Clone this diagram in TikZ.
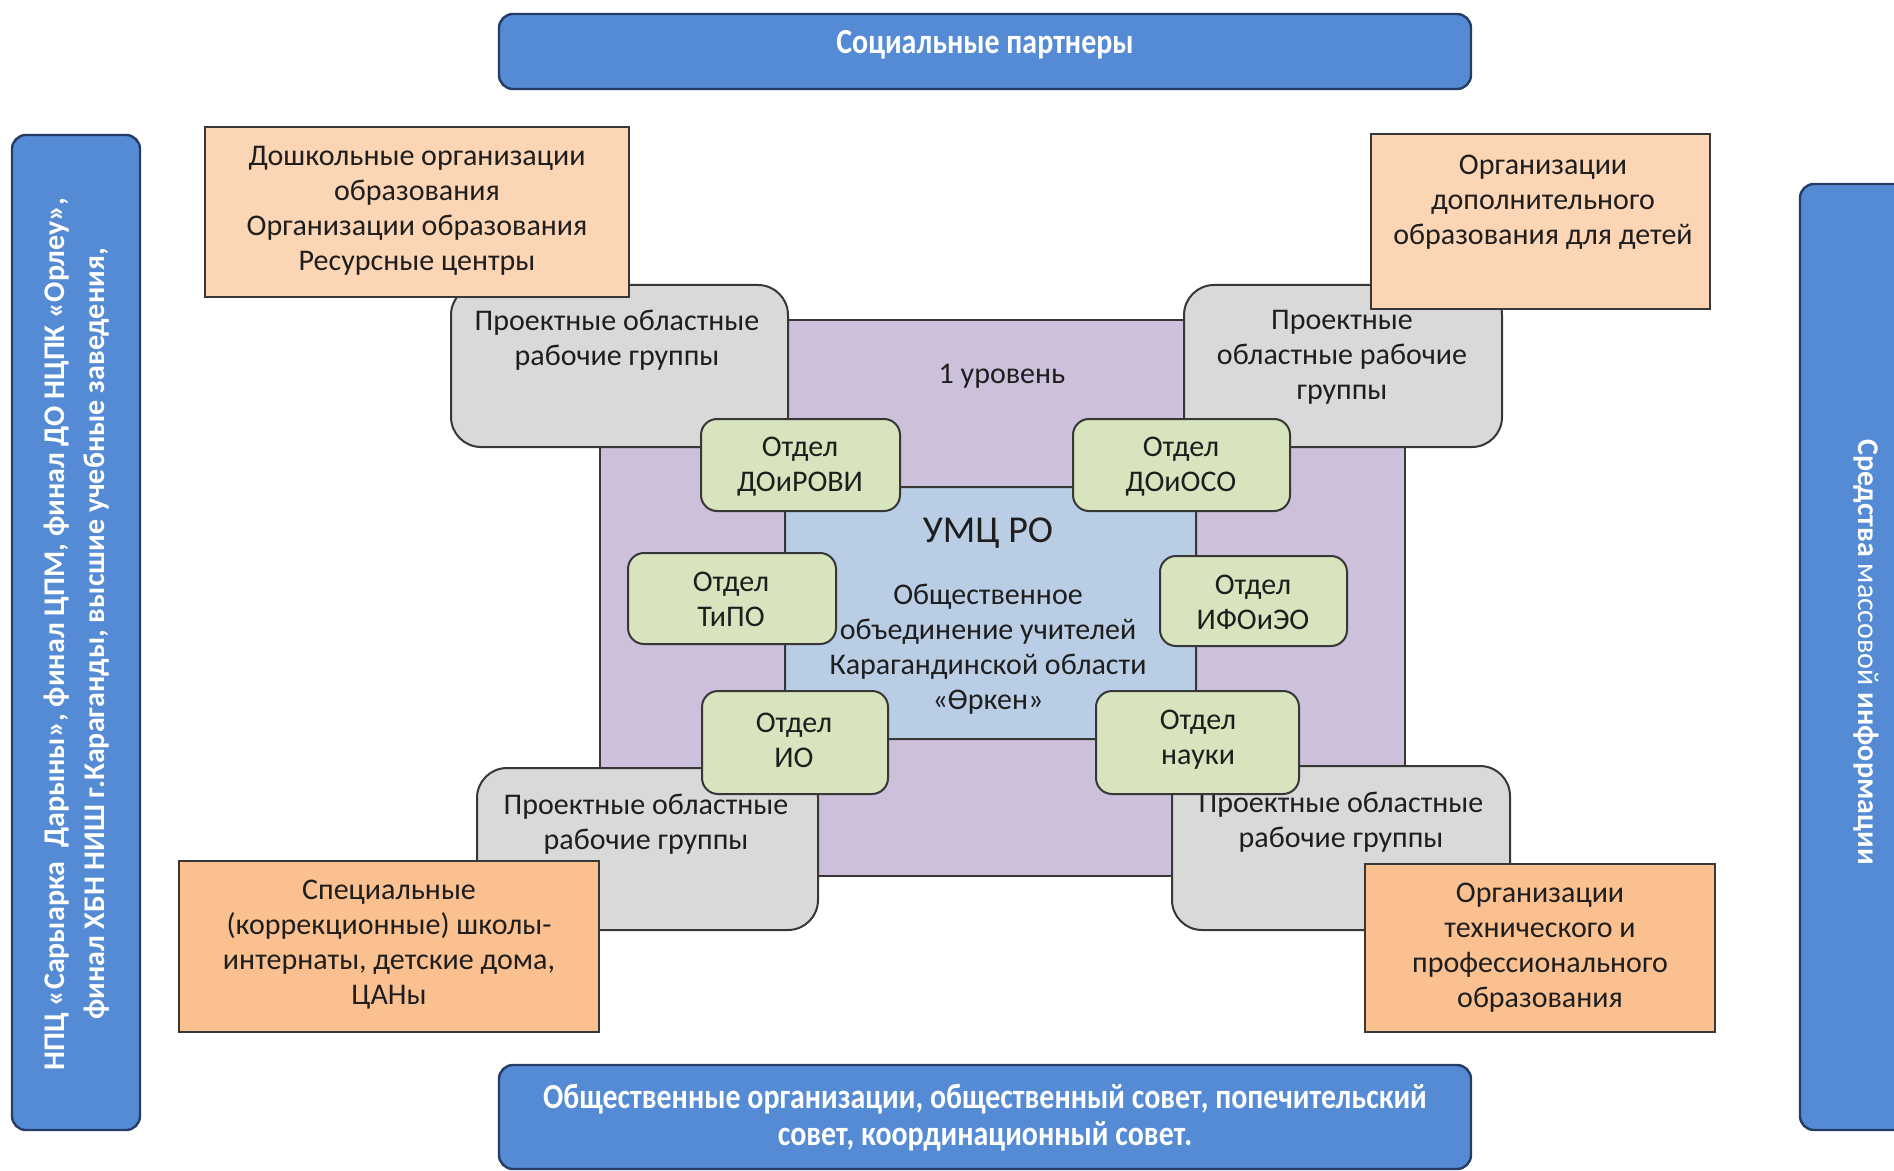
\documentclass[tikz,border=0pt]{standalone}
\usepackage{fontspec}
\setmainfont{Carlito}
\newfontfamily\barfont[FakeStretch=0.85]{Carlito}
\definecolor{barfill}{RGB}{84,139,212}
\definecolor{barline}{RGB}{38,60,100}
\definecolor{purp}{RGB}{204,192,218}
\definecolor{cblue}{RGB}{185,205,229}
\definecolor{grayb}{RGB}{217,217,217}
\definecolor{greenb}{RGB}{215,228,189}
\definecolor{peachL}{RGB}{252,213,181}
\definecolor{peachD}{RGB}{250,192,144}
\definecolor{edge}{RGB}{55,55,55}
\definecolor{txt}{RGB}{30,30,30}
\begin{document}
\begin{tikzpicture}[x=0.5pt,y=-0.5pt,
  barbox/.style={fill=barfill,draw=barline,line width=1.2pt,rounded corners=7pt},
  purpbox/.style={fill=purp,draw=edge,line width=1pt},
  centerbox/.style={fill=cblue,draw=edge,line width=1pt,rounded corners=12pt},
  graybox/.style={fill=grayb,draw=edge,line width=1pt,rounded corners=15pt},
  greenbox/.style={fill=greenb,draw=edge,line width=1pt,rounded corners=8pt},
  peachlbox/.style={fill=peachL,draw=edge,line width=1pt},
  peachdbox/.style={fill=peachD,draw=edge,line width=1pt},
  body/.style={font=\fontsize{15}{17.5}\selectfont,text=txt,align=center,inner sep=0pt},
  bartext/.style={font=\barfont\bfseries\fontsize{17.6}{18.5}\selectfont,text=white,align=center,inner sep=0pt},
  sidetext/.style={font=\bfseries\fontsize{15}{20}\selectfont,text=white,align=center,inner sep=0pt}]
\useasboundingbox (0,0) rectangle (1894,1171);
\clip (0,0) rectangle (1894,1171);
\fill[white] (0,0) rectangle (1894,1171);

% outer bars
\draw[barbox] (499,14) rectangle (1471,89);
\node[bartext] (social) at (985,45) {Социальные партнеры};
\draw[barbox] (499,1065) rectangle (1471,1169);
\node[bartext] (public) at (985,1118) {Общественные организации, общественный совет, попечительский\\совет, координационный совет.};
\draw[barbox] (12,135) rectangle (140,1130);
\node[sidetext,rotate=90] (left) at (77,634) {НПЦ «Сарыарка\ \ Дарыны», финал ЦПМ, финал ДО НЦПК «Орлеу»,\\финал ХБН НИШ г.Караганды, высшие учебные заведения,};
\draw[barbox] (1800,184) rectangle (1940,1130);
\node[sidetext,rotate=-90] (media) at (1866,652) {Средства {\mdseries массовой} информации};

% level 1
\draw[purpbox] (600,320) rectangle (1405,876);
\node[body] (level) at (1002,376) {1 уровень};

% project groups
\draw[graybox] (451,285) rectangle (788,447);
\draw[graybox] (1184,285) rectangle (1502,447);
\draw[graybox] (477,768) rectangle (818,930);
\draw[graybox] (1172,766) rectangle (1510,930);
\node[body] (g1) at (617,340) {Проектные областные\\рабочие группы};
\node[body] (g2) at (1342,357) {Проектные\\областные рабочие\\группы};
\node[body] (g3) at (646,824) {Проектные областные\\рабочие группы};
\node[body] (g4) at (1341,822) {Проектные областные\\рабочие группы};

% centre
\draw[centerbox] (785,487) rectangle (1196,739);
\node[font=\fontsize{19}{22}\selectfont,text=txt,inner sep=0pt] (umc) at (988,533) {УМЦ РО};
\node[body] (org) at (988,649) {Общественное\\объединение учителей\\Карагандинской области\\«Өркен»};

% departments
\draw[greenbox] (701,419) rectangle (900,511);
\node[body] (d1) at (800,467) {Отдел\\ДОиРОВИ};
\draw[greenbox] (1073,419) rectangle (1290,511);
\node[body] (d2) at (1181,467) {Отдел\\ДОиОСО};
\draw[greenbox] (628,553) rectangle (836,644);
\node[body] (d3) at (731,599) {Отдел\\ТиПО};
\draw[greenbox] (1160,556) rectangle (1347,646);
\node[body] (d4) at (1253,602) {Отдел\\ИФОиЭО};
\draw[greenbox] (702,691) rectangle (888,794);
\node[body] (d5) at (794,740) {Отдел\\ИО};
\draw[greenbox] (1096,691) rectangle (1299,794);
\node[body] (d6) at (1198,740) {Отдел\\науки};

% partner organisations
\draw[peachlbox] (205,127) rectangle (629,297);
\node[body] (o1) at (417,211) {Дошкольные организации\\образования\\Организации образования\\Ресурсные центры};
\draw[peachlbox] (1371,134) rectangle (1710,309);
\node[body] (o2) at (1543,202) {Организации\\дополнительного\\образования для детей};
\draw[peachdbox] (179,861) rectangle (599,1032);
\node[body] (o3) at (389,945) {Специальные\\(коррекционные) школы-\\интернаты, детские дома,\\ЦАНы};
\draw[peachdbox] (1365,864) rectangle (1715,1032);
\node[body] (o4) at (1540,948) {Организации\\технического и\\профессионального\\образования};
\end{tikzpicture}
\end{document}
